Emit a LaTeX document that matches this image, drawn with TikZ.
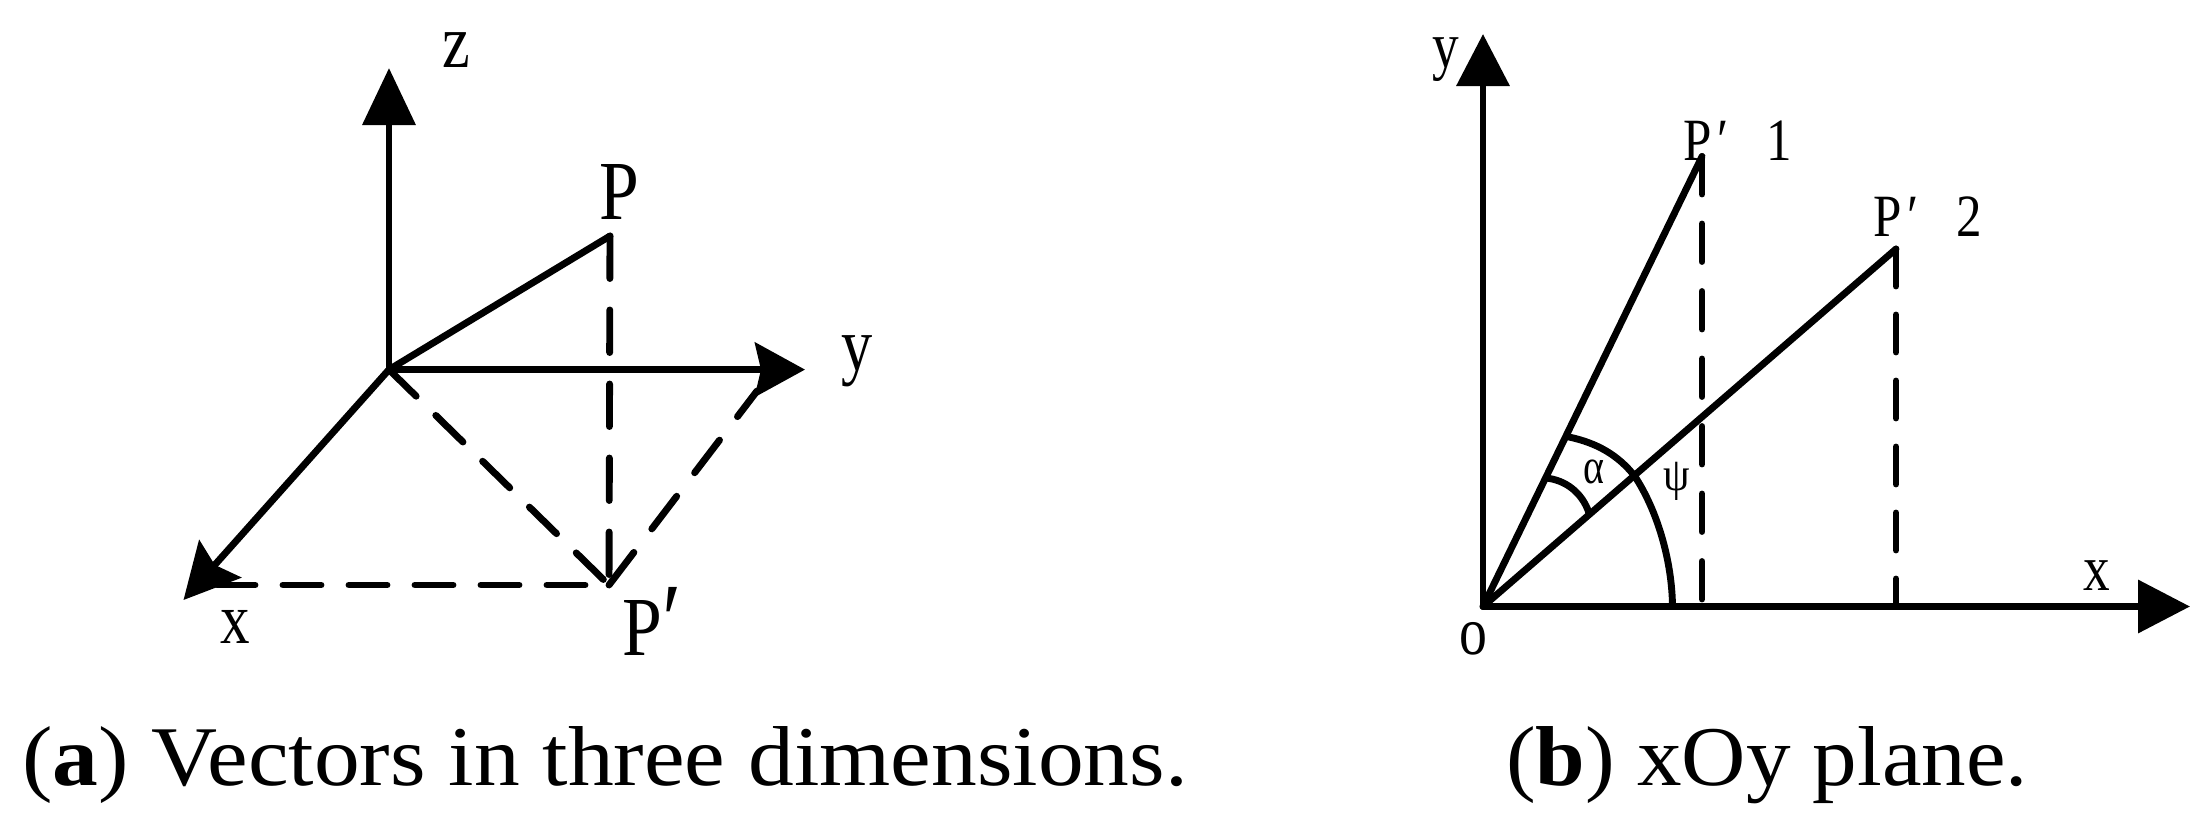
\documentclass[tikz,border=0pt]{standalone}
\usepackage{fontspec}
\usepackage{graphicx}
\setmainfont{Liberation Serif}
\usetikzlibrary{arrows.meta}
\newcommand\lab[3][.82]{\scalebox{#1}[1]{\fontsize{#2}{#2}\selectfont #3}}
\newcommand\captxt[2]{\resizebox{#1}{\height}{\fontsize{85}{85}\selectfont #2}}
\tikzset{
  txt/.style={inner sep=0pt,outer sep=0pt,anchor=base},
  txtw/.style={inner sep=0pt,outer sep=0pt,anchor=base west},
  solidln/.style={line width=6.9pt,line cap=round,line join=round},
  dashln/.style={line width=6.9pt,line cap=round},
}
\begin{document}
\begin{tikzpicture}[x=1pt,y=-1pt]
\fill[white] (0,0) rectangle (2212,827);
\useasboundingbox (0,0) rectangle (2212,827);
% panel a
\coordinate (O) at (389,369.6);
\coordinate (Zt) at (389,68);
\coordinate (Yt) at (805,369.6);
\coordinate (Xt) at (183.5,600);
\coordinate (Pa) at (610,236);
\coordinate (Pb) at (609,585);
\coordinate (Yd) at (757,391);
\coordinate (Xd) at (217,585);
\draw[solidln,line cap=butt,-{Triangle[length=57pt,width=52pt]}] (O) -- (Zt);
\draw[solidln,line cap=butt,-{Stealth[length=50pt,width=54pt,inset=6pt]}] (O) -- (Yt);
\draw[solidln,line cap=butt,-{Stealth[length=55pt,width=56pt,inset=8pt]}] (O) -- (Xt);
\draw[solidln] (O) -- (Pa);
\draw[dashln,dash pattern=on 42.5pt off 31.5pt] (Pa) -- (Pb);
\draw[dashln,dash pattern=on 38pt off 27.5pt] (O) -- (Pb);
\draw[dashln,dash pattern=on 41pt off 29.6pt] (Pb) -- (Yd);
\draw[dashln,dash pattern=on 38pt off 28pt,dash phase=42pt] (Pb) -- (Xd);
\node[txt] (lz) at (456,67) {\lab{76}{z}};
\node[txt] (lP) at (619,219) {\lab[.85]{84}{P}};
\node[txt] (ly) at (857,370) {\lab{76}{y}};
\node[txt] (lx) at (235,643.5) {\lab{72}{x}};
\node[txtw] (lPp) at (622,655) {\lab[.85]{84}{P\hspace{1pt}\fontsize{104}{104}\selectfont ′}};
% panel b
\coordinate (Ob) at (1483,606.5);
\coordinate (Ybt) at (1483,34);
\coordinate (Xbt) at (2190,606.5);
\coordinate (P1) at (1702,156.5);
\coordinate (P2) at (1896,249);
\coordinate (F1) at (1702,606.5);
\coordinate (F2) at (1896,606.5);
\coordinate (A1) at (1672.5,606.5);
\coordinate (A2) at (1634.6,476);
\coordinate (A3) at (1569,437);
\coordinate (B1) at (1546,478);
\coordinate (B2) at (1589,513);
\draw[solidln,line cap=butt,-{Triangle[length=52pt,width=52pt]}] (Ob) -- (Ybt);
\draw[solidln,line cap=butt,-{Triangle[length=52pt,width=52pt]}] (Ob) -- (Xbt);
\draw[solidln] (Ob) -- (P1);
\draw[solidln] (Ob) -- (P2);
\draw[dashln,dash pattern=on 37.5pt off 30pt] (P1) -- (F1);
\draw[dashln,dash pattern=on 37pt off 29pt] (P2) -- (F2);
\draw[solidln] (A1) .. controls (1672,560) and (1657,510) .. (A2) .. controls (1618,455) and (1597,443) .. (A3);
\draw[solidln] (B1) .. controls (1565,480) and (1582,492) .. (B2);
\node[txt] (by) at (1446,67) {\lab{65}{y}};
\node[txtw] (bP1) at (1683,160) {\lab[.85]{60}{P\hspace{7pt}′\hspace{45pt}1}};
\node[txtw] (bP2) at (1873,236) {\lab[.85]{60}{P\hspace{7pt}′\hspace{45pt}2}};
\node[txt] (bx) at (2097,590) {\lab{65}{x}};
\node[txt] (bo) at (1473,654) {\lab{68}{o}};
\node[txt] (ba) at (1594,483.5) {\lab[.8]{50}{α}};
\node[txt] (bp) at (1677,490) {\lab[.9]{47}{ψ}};
% captions
\node[txtw] (c1) at (22,785) {\captxt{1166pt}{(\textbf{a}) Vectors in three dimensions.}};
\node[txtw] (c2) at (1506,785) {\captxt{522pt}{(\textbf{b}) xOy plane.}};
\end{tikzpicture}
\end{document}
